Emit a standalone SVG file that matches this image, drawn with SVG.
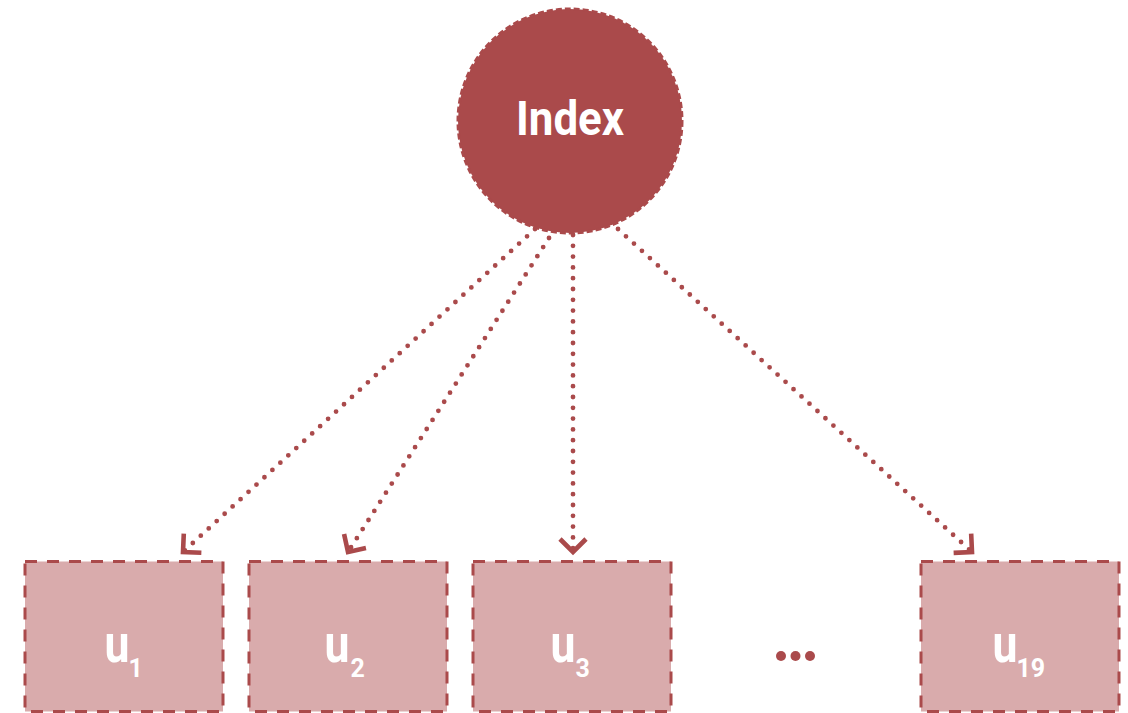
<svg xmlns="http://www.w3.org/2000/svg" width="1128" height="713" viewBox="0 0 1128 713">
  <defs>
    <style>
      .index-node { fill: #aa4a4b; stroke: #aa4a4b; stroke-width: 3; stroke-dasharray: 6 3; }
      .unit-box { fill: #d9abac; stroke: #aa4a4b; stroke-width: 3; stroke-dasharray: 12 10; }
      .label { font-family: Roboto, "Liberation Sans", sans-serif; font-weight: bold; fill: #ffffff; }
      .sub { font-size: 25px; }
      .link { fill: none; stroke: #aa4a4b; stroke-width: 4.8; stroke-linecap: round; stroke-dasharray: 0 10.8; }
      .dot { fill: #aa4a4b; }
    </style>
    <marker id="chevron" markerUnits="userSpaceOnUse" viewBox="-16 -16 20 32" refX="0" refY="0" markerWidth="20" markerHeight="32" orient="auto">
      <path d="M-13,-13 L0,0 L-13,13" fill="none" stroke="#aa4a4b" stroke-width="4.6" stroke-linejoin="miter"/>
    </marker>
  </defs>

  <!-- connectors from the index to each unit -->
  <g id="connectors">
    <line class="link" x1="535" y1="229" x2="183" y2="552" marker-end="url(#chevron)"/>
    <line class="link" x1="549" y1="238" x2="348" y2="552" marker-end="url(#chevron)"/>
    <line class="link" x1="573" y1="235" x2="573" y2="552" marker-end="url(#chevron)"/>
    <line class="link" x1="618" y1="229" x2="972" y2="552" marker-end="url(#chevron)"/>
  </g>

  <!-- index node -->
  <g id="node-index">
    <circle class="index-node" cx="570" cy="121" r="112"/>
    <text class="label" x="570" y="135" font-size="49" text-anchor="middle" textLength="108" lengthAdjust="spacingAndGlyphs">Index</text>
  </g>

  <!-- unit nodes: variable name with a subscript index -->
  <g id="node-u1">
    <rect class="unit-box" x="25" y="561.5" width="198" height="150"/>
    <text class="label" x="104.5" y="662" font-size="54"><tspan textLength="25" lengthAdjust="spacingAndGlyphs">u</tspan><tspan class="sub" dx="-1" dy="15">1</tspan></text>
  </g>
  <g id="node-u2">
    <rect class="unit-box" x="249" y="561.5" width="198" height="150"/>
    <text class="label" x="324.5" y="662" font-size="54"><tspan textLength="25" lengthAdjust="spacingAndGlyphs">u</tspan><tspan class="sub" dx="1" dy="15">2</tspan></text>
  </g>
  <g id="node-u3">
    <rect class="unit-box" x="473" y="561.5" width="198" height="150"/>
    <text class="label" x="550.5" y="662" font-size="54"><tspan textLength="25" lengthAdjust="spacingAndGlyphs">u</tspan><tspan class="sub" dx="0" dy="15">3</tspan></text>
  </g>
  <g id="node-ellipsis">
    <circle class="dot" cx="781" cy="656" r="5"/>
    <circle class="dot" cx="795.5" cy="656" r="5"/>
    <circle class="dot" cx="810" cy="656" r="5"/>
  </g>
  <g id="node-u19">
    <rect class="unit-box" x="921" y="561.5" width="198" height="150"/>
    <text class="label" x="992.5" y="662" font-size="54"><tspan textLength="25" lengthAdjust="spacingAndGlyphs">u</tspan><tspan class="sub" dx="-1" dy="15">19</tspan></text>
  </g>
</svg>
